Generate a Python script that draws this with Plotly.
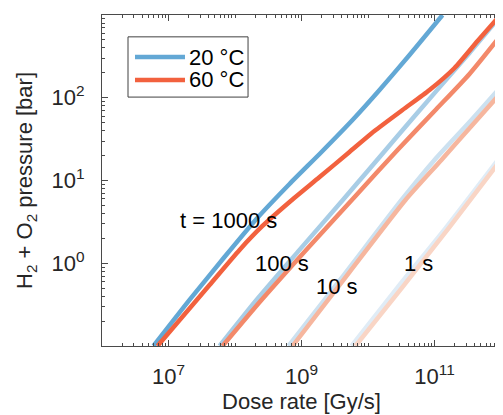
import math
import plotly.graph_objects as go

# ---- data (dose rate [Gy/s], pressure [bar]) ----
# 20 °C curves
x20_1000 = [5.94e6, 2.07e7, 6.95e7, 2.10e8, 6.61e8, 2.00e9, 5.85e9, 1.49e10, 4.21e10, 1.32e11]
y20_1000 = [0.100, 0.360, 1.19, 3.43, 9.08, 22.1, 53.8, 124, 329, 1000]
x20_100 = [5.85e7, 2.10e8, 9.33e8, 4.44e9, 1.05e10, 2.78e10, 1.07e11, 3.36e11, 9.82e11]
y20_100 = [0.100, 0.360, 1.45, 6.15, 13.8, 34.5, 121, 348, 973]
x20_10 = [6.38e8, 4.44e9, 3.19e10, 1.00e11, 3.36e11, 1.02e12]
y20_10 = [0.100, 0.741, 5.81, 17.7, 50.9, 139]
x20_1 = [5.65e9, 2.98e10, 1.51e11, 1.02e12]
y20_1 = [0.100, 0.546, 2.74, 20.3]

# 60 °C curves
x60_1000 = [6.84e6, 4.14e7, 1.17e8, 2.59e8, 6.61e8, 1.87e9, 5.27e9, 1.25e10, 3.30e10,
            8.41e10, 2.00e11, 4.44e11, 9.48e11]
y60_1000 = [0.100, 0.546, 1.45, 2.82, 5.50, 11.0, 22.1, 39.6, 71.1, 124, 229, 485, 973]
x60_100 = [6.49e7, 2.50e8, 1.32e9, 6.49e9, 2.78e10, 1.07e11, 3.36e11, 9.48e11]
y60_100 = [0.100, 0.360, 1.61, 6.50, 23.4, 73.1, 194, 542]
x60_10 = [7.33e8, 5.27e9, 3.66e10, 1.27e11, 3.60e11, 1.02e12]
y60_10 = [0.100, 0.783, 5.81, 17.7, 45.6, 117]
x60_1 = [6.49e9, 3.30e10, 1.68e11, 1.02e12]
y60_1 = [0.100, 0.516, 2.74, 18.2]

# in-plot labels (dose rate, pressure)
label_text = ["t = 1000 s", "100 s", "10 s", "1 s"]
label_x = [8.0e7, 5.1e8, 3.4e9, 5.7e10]
label_y = [3.25, 1.0, 0.53, 1.0]

# legend entries
legend_names = ["20 °C", "60 °C"]

blue_cols = ["#63A8D5", "#A8CDE6", "#CCE1F0", "#E0ECF6"]
red_cols = ["#F2613E", "#F3896A", "#F6B69E", "#F9D5C5"]

blues = [(x20_1000, y20_1000), (x20_100, y20_100), (x20_10, y20_10), (x20_1, y20_1)]
reds = [(x60_1000, y60_1000), (x60_100, y60_100), (x60_10, y60_10), (x60_1, y60_1)]

fig = go.Figure()
order = [3, 2, 1, 0]
for i in order:
    xs, ys = blues[i]
    fig.add_trace(go.Scatter(x=xs, y=ys, mode="lines",
                             line=dict(color=blue_cols[i], width=4.5, shape="spline", smoothing=0.6),
                             name=legend_names[0], showlegend=False))
for i in order:
    xs, ys = reds[i]
    fig.add_trace(go.Scatter(x=xs, y=ys, mode="lines",
                             line=dict(color=red_cols[i], width=4.5, shape="spline", smoothing=0.6),
                             name=legend_names[1], showlegend=False))

for t, lx, ly in zip(label_text, label_x, label_y):
    fig.add_annotation(x=math.log10(lx), y=math.log10(ly), text=t,
                       showarrow=False, font=dict(size=22, color="black"),
                       xanchor="center", yanchor="middle")

# legend box drawn in paper coordinates
fig.add_shape(type="rect", xref="paper", yref="paper", x0=0.0652, x1=0.366, y0=0.752, y1=0.934,
              line=dict(color="#404040", width=1), fillcolor="white", layer="above")
for name, col, yy in zip(legend_names, [blue_cols[0], red_cols[0]], [0.873, 0.804]):
    fig.add_shape(type="line", xref="paper", yref="paper", x0=0.0827, x1=0.208, y0=yy, y1=yy,
                  line=dict(color=col, width=4.5), layer="above")
    fig.add_annotation(xref="paper", yref="paper", x=0.214, y=yy, text=name, showarrow=False,
                       xanchor="left", yanchor="middle", font=dict(size=22, color="black"))

minor_x = [m * 10 ** d for d in range(6, 12) for m in range(2, 10)] + [1e8, 1e10]
minor_y = [m * 10 ** d for d in range(-1, 3) for m in range(2, 10)]
axis_col = "#4a4a4a"

fig.update_xaxes(type="log", range=[6, 12], automargin=False,
                 tickvals=[1e7, 1e9, 1e11],
                 ticktext=["10<sup>7</sup>", "10<sup>9</sup>", "10<sup>11</sup>"],
                 ticks="inside", ticklen=6, tickcolor=axis_col, showline=True, linecolor=axis_col,
                 linewidth=1, mirror="allticks", showgrid=False, zeroline=False,
                 minor=dict(tickvals=minor_x, ticks="inside", ticklen=3, tickcolor=axis_col),
                 tickfont=dict(size=22, color="#262626"), ticklabelstandoff=11,
                 title=dict(text="Dose rate [Gy/s]", font=dict(size=22, color="#262626"), standoff=5))
fig.update_yaxes(type="log", range=[-1, 3], automargin=False,
                 tickvals=[1, 10, 100],
                 ticktext=["10<sup>0</sup>", "10<sup>1</sup>", "10<sup>2</sup>"],
                 ticks="inside", ticklen=6, tickcolor=axis_col, showline=True, linecolor=axis_col,
                 linewidth=1, mirror="allticks", showgrid=False, zeroline=False,
                 minor=dict(tickvals=minor_y, ticks="inside", ticklen=3, tickcolor=axis_col),
                 tickfont=dict(size=22, color="#262626"), ticklabelstandoff=12,
                 title=dict(text="H<sub>2</sub> + O<sub>2</sub> pressure [bar]",
                            font=dict(size=22, color="#262626"), standoff=12))

# the page body adds an 8 px offset, so margins are shifted to keep the plot area in place
fig.update_layout(width=503, height=415, margin=dict(l=94, r=10, t=7, b=77),
                  plot_bgcolor="white", paper_bgcolor="white", showlegend=False,
                  font=dict(family="Liberation Sans, Arial, sans-serif", size=22, color="#262626"))

fig.write_html("out.html")
